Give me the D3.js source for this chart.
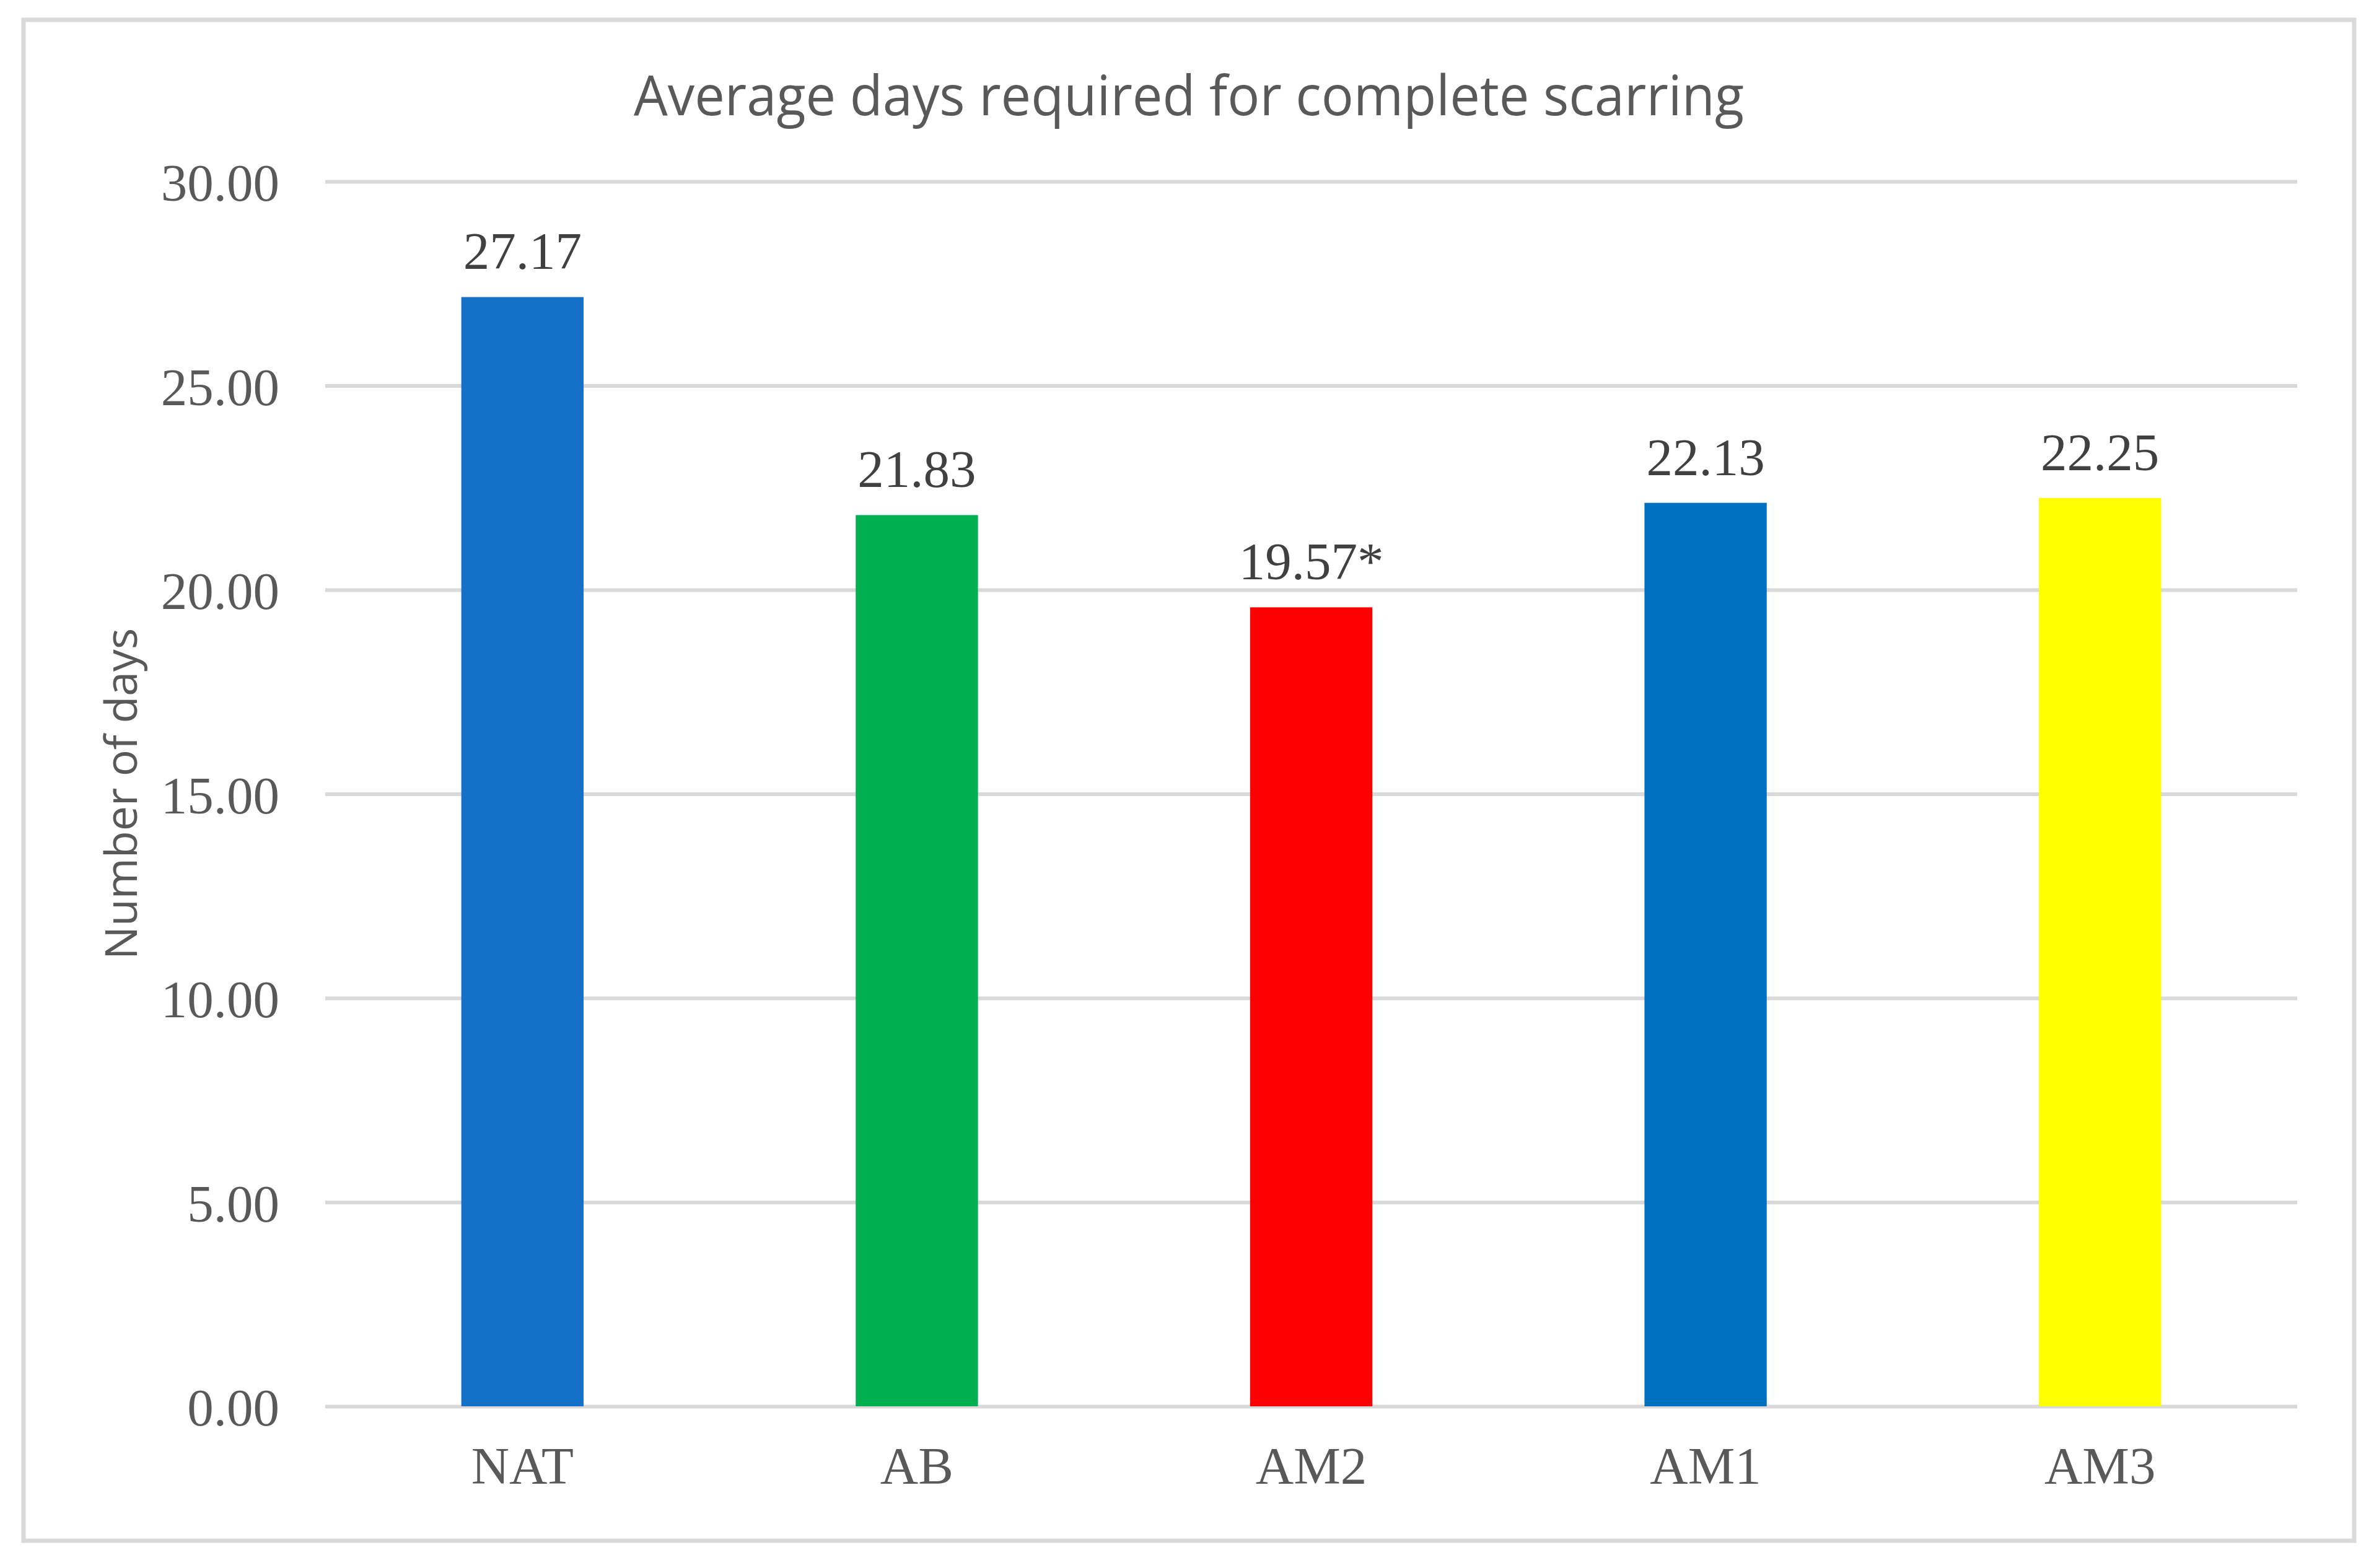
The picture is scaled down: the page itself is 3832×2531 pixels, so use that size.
<!DOCTYPE html>
<html>
<head>
<meta charset="utf-8">
<script src="https://cdn.jsdelivr.net/npm/d3@7"></script>
<style>
  body { margin: 0; background: #ffffff; }
</style>
</head>
<body>
<div id="chart"></div>
<script>
// data
let groups = ["NAT", "AB", "AM2", "AM1", "AM3"]
let avgDays = [27.17, 21.83, 19.57, 22.13, 22.25]
let marks = ["", "", "*", "", ""]
let barColors = ["#1570C8", "#00B050", "#FF0000", "#0070C0", "#FFFF00"]
let yTicks = [0, 5, 10, 15, 20, 25, 30]

let W = 3832, H = 2531
let plot = { left: 525, right: 3708, top: 293, bottom: 2270 }

let svg = d3.select("#chart").append("svg")
  .attr("width", W)
  .attr("height", H)

svg.append("rect")
  .attr("width", W).attr("height", H)
  .attr("fill", "#ffffff")

// chart frame
svg.append("rect")
  .attr("x", 38).attr("y", 32)
  .attr("width", 3800 - 38).attr("height", 2487 - 32)
  .attr("fill", "#ffffff")
  .attr("stroke", "#d9d9d9")
  .attr("stroke-width", 7)

let xScale = d3.scaleBand()
  .domain(groups)
  .range([plot.left, plot.right])
  .paddingInner(0.69)
  .paddingOuter(0.345)

let yScale = d3.scaleLinear()
  .domain([0, 30])
  .range([plot.bottom, plot.top])

let colorScale = d3.scaleOrdinal()
  .domain(groups)
  .range(barColors)

// gridlines
let grid = svg.append("g")
  .attr("transform", `translate(${plot.left},0)`)
  .call(d3.axisLeft(yScale)
    .tickValues(yTicks)
    .tickSize(-(plot.right - plot.left))
    .tickFormat(""))
grid.select(".domain").remove()
grid.selectAll(".tick line")
  .attr("stroke", "#d9d9d9")
  .attr("stroke-width", 6)

// y axis labels
let yAxis = svg.append("g")
  .attr("transform", `translate(${plot.left},0)`)
  .call(d3.axisLeft(yScale)
    .tickValues(yTicks)
    .tickSize(0)
    .tickFormat(d3.format(".2f")))
yAxis.select(".domain").remove()
yAxis.selectAll(".tick text")
  .attr("x", -74)
  .attr("dy", "0.36em")
  .style("font-family", "'Liberation Serif', 'Times New Roman', serif")
  .style("font-size", "85px")
  .style("fill", "#595959")

// x axis labels
let xAxis = svg.append("g")
  .attr("transform", `translate(0,${plot.bottom})`)
  .call(d3.axisBottom(xScale).tickSize(0))
xAxis.select(".domain").remove()
xAxis.selectAll(".tick text")
  .attr("y", 125)
  .attr("dy", 0)
  .style("font-family", "'Liberation Serif', 'Times New Roman', serif")
  .style("font-size", "85px")
  .style("fill", "#595959")

// bars
svg.selectAll("rect.bar")
  .data(groups)
  .enter()
  .append("rect")
  .attr("class", "bar")
  .attr("x", d => xScale(d))
  .attr("width", xScale.bandwidth())
  .attr("y", (d, i) => yScale(avgDays[i]))
  .attr("height", (d, i) => yScale(0) - yScale(avgDays[i]))
  .attr("fill", d => colorScale(d))

// value labels
svg.selectAll("text.value")
  .data(groups)
  .enter()
  .append("text")
  .attr("class", "value")
  .attr("x", d => xScale(d) + xScale.bandwidth() / 2)
  .attr("y", (d, i) => yScale(avgDays[i]) - 45)
  .attr("text-anchor", "middle")
  .style("font-family", "'Liberation Serif', 'Times New Roman', serif")
  .style("font-size", "85px")
  .style("fill", "#404040")
  .text((d, i) => d3.format(".2f")(avgDays[i]) + marks[i])

// title
svg.append("text")
  .attr("x", 1919)
  .attr("y", 186)
  .attr("text-anchor", "middle")
  .attr("textLength", 1792)
  .attr("lengthAdjust", "spacingAndGlyphs")
  .style("font-family", "'Open Sans', 'Noto Sans', sans-serif")
  .style("font-size", "90px")
  .style("fill", "#595959")
  .text("Average days required for complete scarring")

// y axis title
svg.append("text")
  .attr("transform", `translate(221,${(plot.top + plot.bottom) / 2}) rotate(-90)`)
  .attr("text-anchor", "middle")
  .attr("textLength", 535)
  .attr("lengthAdjust", "spacingAndGlyphs")
  .style("font-family", "'Open Sans', 'Noto Sans', sans-serif")
  .style("font-size", "72px")
  .style("fill", "#595959")
  .text("Number of days")
</script>
</body>
</html>
